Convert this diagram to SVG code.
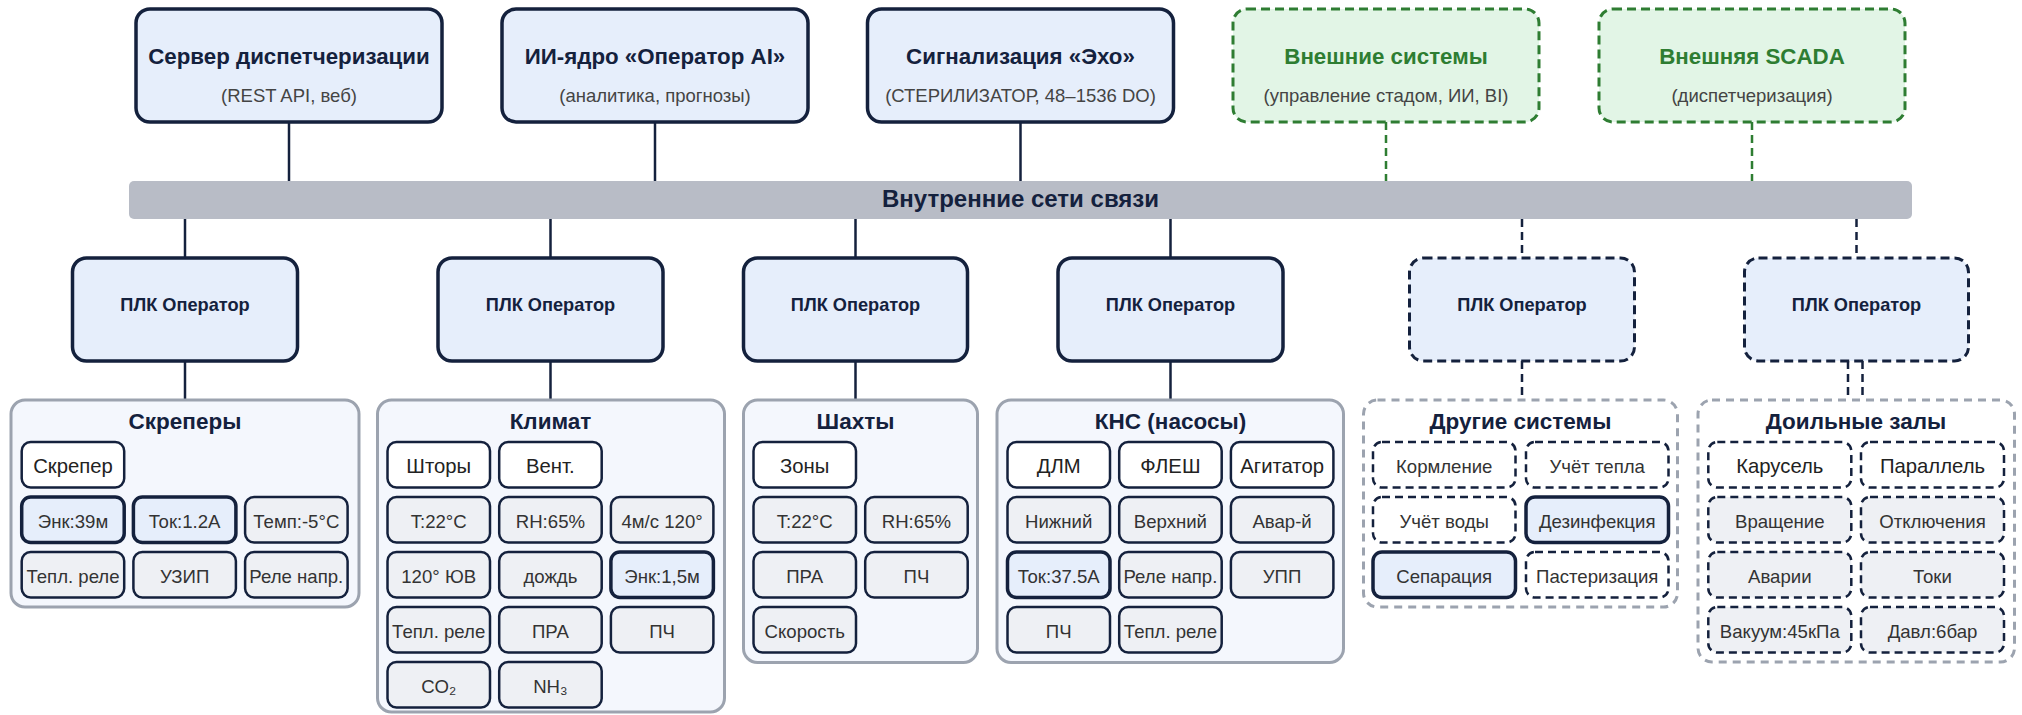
<svg xmlns="http://www.w3.org/2000/svg" width="2022" height="715" viewBox="0 0 2022 715">
<style>
text{font-family:"Liberation Sans",Arial,sans-serif;text-anchor:middle}
.top{fill:#e6eefb;stroke:#14213d;stroke-width:3.5}
.ext{fill:#e2f5e6;stroke:#2e7d32;stroke-width:3;stroke-dasharray:9 5}
.tt{font-size:22.3px;font-weight:bold;fill:#14213d}
.et{font-size:22.3px;font-weight:bold;fill:#2e7d32}
.st{font-size:18.5px;fill:#444}
.bus{fill:#b8bcc6}
.bt{font-size:24px;font-weight:bold;fill:#14213d}
.plc{fill:#e6eefb;stroke:#14213d;stroke-width:3.5}
.plcd{fill:#e6eefb;stroke:#14213d;stroke-width:3;stroke-dasharray:9 5}
.pt{font-size:18.2px;font-weight:bold;fill:#14213d}
.grp{fill:#f4f7fd;stroke:#9ca3af;stroke-width:3}
.grpd{fill:#fff;stroke:#9ca3af;stroke-width:3;stroke-dasharray:8 6}
.gt{font-size:22.5px;font-weight:bold;fill:#14213d}
.c{stroke:#14213d;stroke-width:2.5}
.w{fill:#fff}
.g{fill:#eef0f4}
.b{fill:#e6eefb;stroke-width:3.5}
.d{stroke-dasharray:8 5}
.ht{font-size:20.3px;fill:#222}
.ct{font-size:18.6px;fill:#333}
.ln{stroke:#14213d;stroke-width:2.5;fill:none}
.lnd{stroke:#14213d;stroke-width:2.5;fill:none;stroke-dasharray:8 5}
.lng{stroke:#2e7d32;stroke-width:2.5;fill:none;stroke-dasharray:8 5}
</style>
<g id="connectors">
<line class="ln" x1="289" y1="122" x2="289" y2="181"/>
<line class="ln" x1="655" y1="122" x2="655" y2="181"/>
<line class="ln" x1="1020.5" y1="122" x2="1020.5" y2="181"/>
<line class="lng" x1="1386" y1="122" x2="1386" y2="181"/>
<line class="lng" x1="1752" y1="122" x2="1752" y2="181"/>
<line class="ln" x1="185" y1="219" x2="185" y2="258"/>
<line class="ln" x1="550.5" y1="219" x2="550.5" y2="258"/>
<line class="ln" x1="855.5" y1="219" x2="855.5" y2="258"/>
<line class="ln" x1="1170.5" y1="219" x2="1170.5" y2="258"/>
<line class="lnd" x1="1522" y1="219" x2="1522" y2="258"/>
<line class="lnd" x1="1856.5" y1="219" x2="1856.5" y2="258"/>
<line class="ln" x1="185" y1="361" x2="185" y2="400"/>
<line class="ln" x1="550.5" y1="361" x2="550.5" y2="400"/>
<line class="ln" x1="855.5" y1="361" x2="855.5" y2="400"/>
<line class="ln" x1="1170.5" y1="361" x2="1170.5" y2="400"/>
<line class="lnd" x1="1522" y1="361" x2="1522" y2="400"/>
<line class="lnd" x1="1848" y1="361" x2="1848" y2="400"/>
<line class="lnd" x1="1862.5" y1="361" x2="1862.5" y2="400"/>
</g>
<g id="server">
<rect class="top" x="136" y="9" width="306" height="113" rx="14"/>
<text class="tt" x="289" y="64">Сервер диспетчеризации</text>
<text class="st" x="289" y="102">(REST API, веб)</text>
</g>
<g id="ai-core">
<rect class="top" x="502" y="9" width="306" height="113" rx="14"/>
<text class="tt" x="655" y="64">ИИ-ядро «Оператор AI»</text>
<text class="st" x="655" y="102">(аналитика, прогнозы)</text>
</g>
<g id="echo">
<rect class="top" x="867.5" y="9" width="306" height="113" rx="14"/>
<text class="tt" x="1020.5" y="64">Сигнализация «Эхо»</text>
<text class="st" x="1020.5" y="102">(СТЕРИЛИЗАТОР, 48–1536 DO)</text>
</g>
<g id="ext-systems">
<rect class="ext" x="1233" y="9" width="306" height="113" rx="14"/>
<text class="et" x="1386" y="64">Внешние системы</text>
<text class="st" x="1386" y="102">(управление стадом, ИИ, BI)</text>
</g>
<g id="ext-scada">
<rect class="ext" x="1599" y="9" width="306" height="113" rx="14"/>
<text class="et" x="1752" y="64">Внешняя SCADA</text>
<text class="st" x="1752" y="102">(диспетчеризация)</text>
</g>
<g id="bus">
<rect class="bus" x="129" y="181" width="1783" height="38" rx="5"/>
<text class="bt" x="1020.5" y="207">Внутренние сети связи</text>
</g>
<g id="plc1"><rect class="plc" x="72.5" y="258" width="225" height="103" rx="14"/><text class="pt" x="185" y="311">ПЛК Оператор</text></g>
<g id="plc2"><rect class="plc" x="438" y="258" width="225" height="103" rx="14"/><text class="pt" x="550.5" y="311">ПЛК Оператор</text></g>
<g id="plc3"><rect class="plc" x="743.5" y="258" width="224" height="103" rx="14"/><text class="pt" x="855.5" y="311">ПЛК Оператор</text></g>
<g id="plc4"><rect class="plc" x="1058" y="258" width="225" height="103" rx="14"/><text class="pt" x="1170.5" y="311">ПЛК Оператор</text></g>
<g id="plc5"><rect class="plcd" x="1409.5" y="258" width="225" height="103" rx="14"/><text class="pt" x="1522" y="311">ПЛК Оператор</text></g>
<g id="plc6"><rect class="plcd" x="1744.5" y="258" width="224" height="103" rx="14"/><text class="pt" x="1856.5" y="311">ПЛК Оператор</text></g>

<g id="scrapers">
<rect class="grp" x="11" y="400" width="348" height="207" rx="14"/>
<text class="gt" x="185" y="428.5">Скреперы</text>
<rect class="c w" x="21.7" y="442" width="102.5" height="45.5" rx="9"/><text class="ht" x="73" y="473">Скрепер</text>
<rect class="c b" x="21.7" y="497" width="102.5" height="45.5" rx="9"/><text class="ct" x="73" y="527.5">Энк:39м</text>
<rect class="c b" x="133.4" y="497" width="102.5" height="45.5" rx="9"/><text class="ct" x="184.6" y="527.5">Ток:1.2A</text>
<rect class="c g" x="245.1" y="497" width="102.5" height="45.5" rx="9"/><text class="ct" x="296.3" y="527.5">Темп:-5°C</text>
<rect class="c g" x="21.7" y="552" width="102.5" height="45.5" rx="9"/><text class="ct" x="73" y="582.5">Тепл. реле</text>
<rect class="c g" x="133.4" y="552" width="102.5" height="45.5" rx="9"/><text class="ct" x="184.6" y="582.5">УЗИП</text>
<rect class="c g" x="245.1" y="552" width="102.5" height="45.5" rx="9"/><text class="ct" x="296.3" y="582.5">Реле напр.</text>
</g>

<g id="climate">
<rect class="grp" x="377.5" y="400" width="347" height="312" rx="14"/>
<text class="gt" x="550.5" y="428.5">Климат</text>
<rect class="c w" x="387.5" y="442" width="102.5" height="45.5" rx="9"/><text class="ht" x="438.7" y="473">Шторы</text>
<rect class="c w" x="499.2" y="442" width="102.5" height="45.5" rx="9"/><text class="ht" x="550.4" y="473">Вент.</text>
<rect class="c g" x="387.5" y="497" width="102.5" height="45.5" rx="9"/><text class="ct" x="438.7" y="527.5">T:22°C</text>
<rect class="c g" x="499.2" y="497" width="102.5" height="45.5" rx="9"/><text class="ct" x="550.4" y="527.5">RH:65%</text>
<rect class="c g" x="610.9" y="497" width="102.5" height="45.5" rx="9"/><text class="ct" x="662.1" y="527.5">4м/с 120°</text>
<rect class="c g" x="387.5" y="552" width="102.5" height="45.5" rx="9"/><text class="ct" x="438.7" y="582.5">120° ЮВ</text>
<rect class="c g" x="499.2" y="552" width="102.5" height="45.5" rx="9"/><text class="ct" x="550.4" y="582.5">дождь</text>
<rect class="c b" x="610.9" y="552" width="102.5" height="45.5" rx="9"/><text class="ct" x="662.1" y="582.5">Энк:1,5м</text>
<rect class="c g" x="387.5" y="607" width="102.5" height="45.5" rx="9"/><text class="ct" x="438.7" y="637.5">Тепл. реле</text>
<rect class="c g" x="499.2" y="607" width="102.5" height="45.5" rx="9"/><text class="ct" x="550.4" y="637.5">ПРА</text>
<rect class="c g" x="610.9" y="607" width="102.5" height="45.5" rx="9"/><text class="ct" x="662.1" y="637.5">ПЧ</text>
<rect class="c g" x="387.5" y="662" width="102.5" height="45.5" rx="9"/><text class="ct" x="438.7" y="692.5">CO₂</text>
<rect class="c g" x="499.2" y="662" width="102.5" height="45.5" rx="9"/><text class="ct" x="550.4" y="692.5">NH₃</text>
</g>

<g id="shafts">
<rect class="grp" x="743.5" y="400" width="234" height="262.5" rx="14"/>
<text class="gt" x="855.5" y="428.5">Шахты</text>
<rect class="c w" x="753.5" y="442" width="102.5" height="45.5" rx="9"/><text class="ht" x="804.7" y="473">Зоны</text>
<rect class="c g" x="753.5" y="497" width="102.5" height="45.5" rx="9"/><text class="ct" x="804.7" y="527.5">T:22°C</text>
<rect class="c g" x="865.2" y="497" width="102.5" height="45.5" rx="9"/><text class="ct" x="916.4" y="527.5">RH:65%</text>
<rect class="c g" x="753.5" y="552" width="102.5" height="45.5" rx="9"/><text class="ct" x="804.7" y="582.5">ПРА</text>
<rect class="c g" x="865.2" y="552" width="102.5" height="45.5" rx="9"/><text class="ct" x="916.4" y="582.5">ПЧ</text>
<rect class="c g" x="753.5" y="607" width="102.5" height="45.5" rx="9"/><text class="ct" x="804.7" y="637.5">Скорость</text>
</g>

<g id="pumps">
<rect class="grp" x="997" y="400" width="346.5" height="262.5" rx="14"/>
<text class="gt" x="1170.5" y="428.5">КНС (насосы)</text>
<rect class="c w" x="1007.5" y="442" width="102.5" height="45.5" rx="9"/><text class="ht" x="1058.7" y="473">ДЛМ</text>
<rect class="c w" x="1119.2" y="442" width="102.5" height="45.5" rx="9"/><text class="ht" x="1170.4" y="473">ФЛЕШ</text>
<rect class="c w" x="1230.9" y="442" width="102.5" height="45.5" rx="9"/><text class="ht" x="1282.1" y="473">Агитатор</text>
<rect class="c g" x="1007.5" y="497" width="102.5" height="45.5" rx="9"/><text class="ct" x="1058.7" y="527.5">Нижний</text>
<rect class="c g" x="1119.2" y="497" width="102.5" height="45.5" rx="9"/><text class="ct" x="1170.4" y="527.5">Верхний</text>
<rect class="c g" x="1230.9" y="497" width="102.5" height="45.5" rx="9"/><text class="ct" x="1282.1" y="527.5">Авар-й</text>
<rect class="c b" x="1007.5" y="552" width="102.5" height="45.5" rx="9"/><text class="ct" x="1058.7" y="582.5">Ток:37.5A</text>
<rect class="c g" x="1119.2" y="552" width="102.5" height="45.5" rx="9"/><text class="ct" x="1170.4" y="582.5">Реле напр.</text>
<rect class="c g" x="1230.9" y="552" width="102.5" height="45.5" rx="9"/><text class="ct" x="1282.1" y="582.5">УПП</text>
<rect class="c g" x="1007.5" y="607" width="102.5" height="45.5" rx="9"/><text class="ct" x="1058.7" y="637.5">ПЧ</text>
<rect class="c g" x="1119.2" y="607" width="102.5" height="45.5" rx="9"/><text class="ct" x="1170.4" y="637.5">Тепл. реле</text>
</g>

<g id="other-systems">
<rect class="grpd" x="1363.5" y="400" width="314" height="207" rx="14"/>
<text class="gt" x="1520.5" y="428.5">Другие системы</text>
<rect class="c w d" x="1373" y="442" width="142.5" height="45.5" rx="9"/><text class="ct" x="1444.2" y="472.5">Кормление</text>
<rect class="c w d" x="1526" y="442" width="142.5" height="45.5" rx="9"/><text class="ct" x="1597.2" y="472.5">Учёт тепла</text>
<rect class="c w d" x="1373" y="497" width="142.5" height="45.5" rx="9"/><text class="ct" x="1444.2" y="527.5">Учёт воды</text>
<rect class="c b" x="1526" y="497" width="142.5" height="45.5" rx="9"/><text class="ct" x="1597.2" y="527.5">Дезинфекция</text>
<rect class="c b" x="1373" y="552" width="142.5" height="45.5" rx="9"/><text class="ct" x="1444.2" y="582.5">Сепарация</text>
<rect class="c w d" x="1526" y="552" width="142.5" height="45.5" rx="9"/><text class="ct" x="1597.2" y="582.5">Пастеризация</text>
</g>

<g id="milking">
<rect class="grpd" x="1698" y="400" width="316.5" height="262" rx="14"/>
<text class="gt" x="1856" y="428.5">Доильные залы</text>
<rect class="c w d" x="1708.3" y="442" width="143" height="45.5" rx="9"/><text class="ht" x="1779.8" y="473">Карусель</text>
<rect class="c w d" x="1861" y="442" width="143" height="45.5" rx="9"/><text class="ht" x="1932.5" y="473">Параллель</text>
<rect class="c g d" x="1708.3" y="497" width="143" height="45.5" rx="9"/><text class="ct" x="1779.8" y="527.5">Вращение</text>
<rect class="c g d" x="1861" y="497" width="143" height="45.5" rx="9"/><text class="ct" x="1932.5" y="527.5">Отключения</text>
<rect class="c g d" x="1708.3" y="552" width="143" height="45.5" rx="9"/><text class="ct" x="1779.8" y="582.5">Аварии</text>
<rect class="c g d" x="1861" y="552" width="143" height="45.5" rx="9"/><text class="ct" x="1932.5" y="582.5">Токи</text>
<rect class="c g d" x="1708.3" y="607" width="143" height="45.5" rx="9"/><text class="ct" x="1779.8" y="637.5">Вакуум:45кПа</text>
<rect class="c g d" x="1861" y="607" width="143" height="45.5" rx="9"/><text class="ct" x="1932.5" y="637.5">Давл:6бар</text>
</g>
</svg>
